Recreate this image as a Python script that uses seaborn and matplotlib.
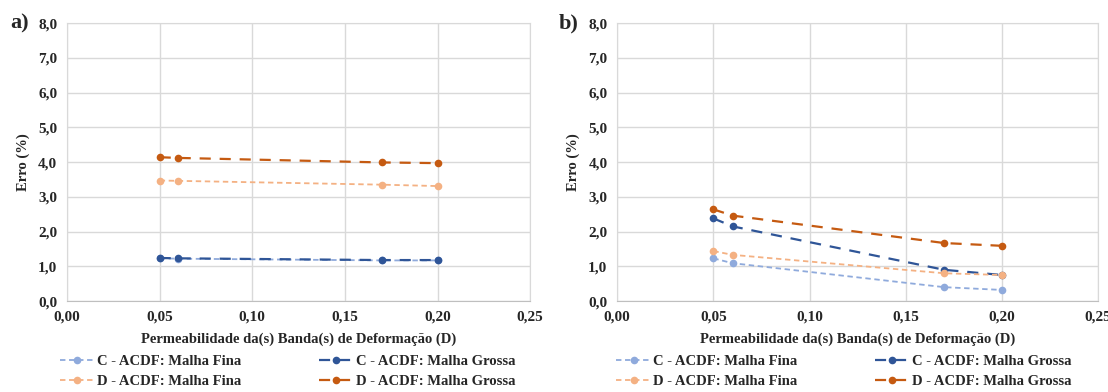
import matplotlib
matplotlib.use("Agg")
import matplotlib.pyplot as plt
import matplotlib.ticker as mticker
from matplotlib.lines import Line2D
import seaborn as sns
import pandas as pd

# dados
permeabilidade = [0.05, 0.06, 0.17, 0.20]

a_c_fina = [1.23, 1.22, 1.17, 1.17]
a_c_grossa = [1.24, 1.23, 1.18, 1.18]
a_d_fina = [3.47, 3.46, 3.35, 3.31]
a_d_grossa = [4.14, 4.12, 3.99, 3.97]

b_c_fina = [1.23, 1.09, 0.40, 0.32]
b_c_grossa = [2.38, 2.15, 0.90, 0.75]
b_d_fina = [1.44, 1.33, 0.80, 0.75]
b_d_grossa = [2.64, 2.46, 1.67, 1.59]

series = ['C - ACDF: Malha Fina', 'C - ACDF: Malha Grossa',
          'D - ACDF: Malha Fina', 'D - ACDF: Malha Grossa']
cores = ['#8FAADC', '#2F5597', '#F4B183', '#C55A11']
tracos = [(0, (3, 2)), (0, (5, 4)), (0, (3, 2)), (0, (5, 4))]
larguras = [1.3, 1.6, 1.3, 1.6]

paineis = {'a)': [a_c_fina, a_c_grossa, a_d_fina, a_d_grossa],
           'b)': [b_c_fina, b_c_grossa, b_d_fina, b_d_grossa]}

sns.set_style('white')
plt.rcParams['font.family'] = ['Liberation Serif', 'DejaVu Serif']
plt.rcParams['font.weight'] = 'bold'

fig = plt.figure(figsize=(11.08, 3.92), dpi=100)
posicoes = [[0.0605, 0.232, 0.418, 0.709], [0.557, 0.232, 0.434, 0.709]]
legenda_x = [0.054, 0.556]

for (rotulo, valores), pos, lx in zip(paineis.items(), posicoes, legenda_x):
    ax = fig.add_axes(pos)
    for nome, y, cor, ls, lw in zip(series, valores, cores, tracos, larguras):
        df = pd.DataFrame({'x': permeabilidade, 'y': y})
        sns.lineplot(data=df, x='x', y='y', ax=ax, color=cor, linestyle=ls,
                     linewidth=lw, marker='o', markersize=5.5,
                     markeredgewidth=0, legend=False)
    ax.set_xlim(0, 0.25)
    ax.set_ylim(0, 8)
    ax.xaxis.set_major_locator(mticker.MultipleLocator(0.05))
    ax.yaxis.set_major_locator(mticker.MultipleLocator(1))
    ax.xaxis.set_major_formatter(mticker.FuncFormatter(lambda v, p: f'{v:.2f}'.replace('.', ',')))
    ax.yaxis.set_major_formatter(mticker.FuncFormatter(lambda v, p: f'{v:.1f}'.replace('.', ',')))
    ax.grid(True, color='#D9D9D9', linewidth=1)
    ax.set_axisbelow(True)
    for s in ax.spines.values():
        s.set_color('#D9D9D9')
    ax.spines['bottom'].set_color('#BFBFBF')
    ax.tick_params(length=0, labelsize=11, pad=7)
    for t in ax.get_xticklabels() + ax.get_yticklabels():
        t.set_fontweight('bold')
    ax.set_xlabel('Permeabilidade da(s) Banda(s) de Deformação (D)',
                  fontsize=10.5, fontweight='bold', labelpad=6)
    ax.set_ylabel('Erro (%)', fontsize=10.5, fontweight='bold', labelpad=6)
    ax.text(-0.122, 1.0, rotulo, transform=ax.transAxes, fontsize=16,
            fontweight='bold', va='center', ha='left')

    # legenda: linha tracejada com marcador no meio
    handles = [Line2D([], [], color=c, linestyle=ls, linewidth=lw,
                      marker='o', markersize=5.5, markeredgewidth=0,
                      markevery=[1])
               for c, ls, lw in zip(cores, tracos, larguras)]
    for hd in handles:
        hd.set_xdata([0, 0.5, 1])
        hd.set_ydata([0, 0, 0])
    ordem = [0, 2, 1, 3]
    ax.legend([handles[i] for i in ordem], [series[i] for i in ordem],
              loc='upper left', bbox_to_anchor=(lx, 0.095),
              bbox_transform=fig.transFigure, ncol=2,
              frameon=False, fontsize=10.5, handlelength=2.4,
              handletextpad=0.15, columnspacing=5.3, labelspacing=0.45,
              borderaxespad=0, borderpad=0)

fig.savefig('out.png', dpi=100)
